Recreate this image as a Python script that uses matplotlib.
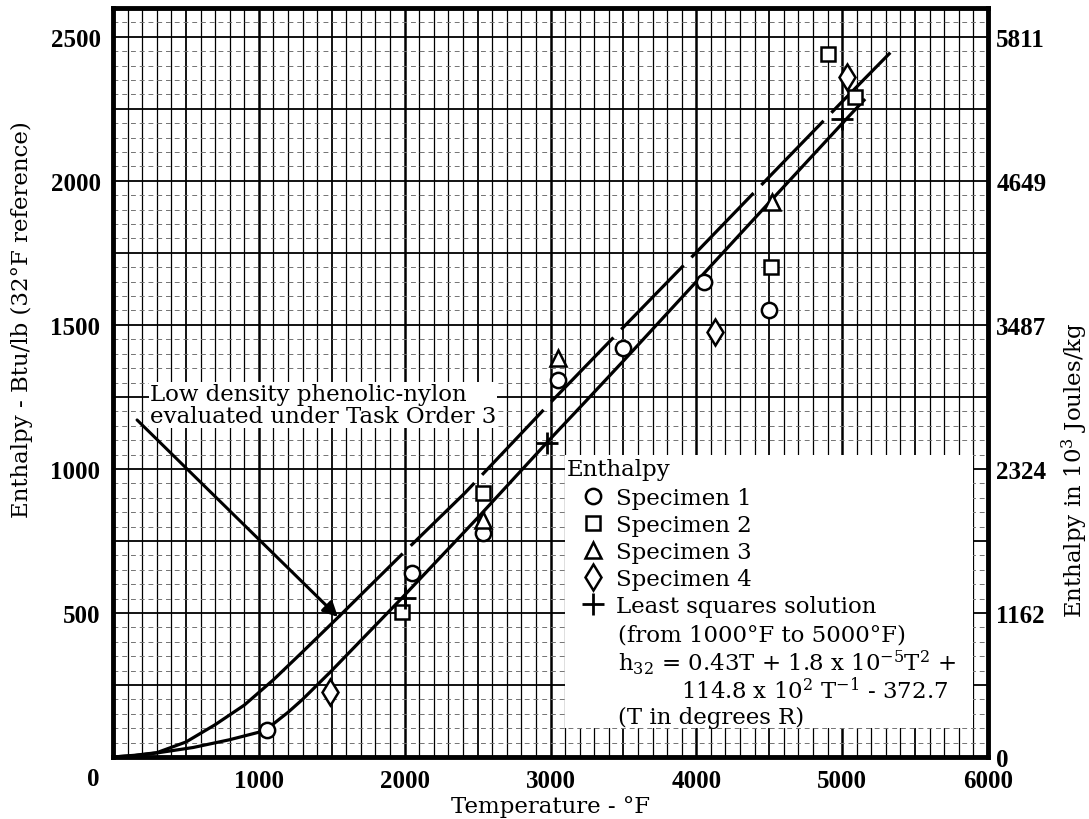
import matplotlib.pyplot as plt
import numpy as np
from matplotlib.lines import Line2D
from matplotlib.patches import Rectangle

#--------------------------------------------------------------------
# MEASURED ENTHALPY (Btu/lb, 32 F reference) vs TEMPERATURE (F)
#--------------------------------------------------------------------
SPEC1_T = [1056, 2051, 2540, 3050, 3500, 4050, 4500]
SPEC1_H = [95, 639, 777, 1310, 1420, 1650, 1550]

SPEC2_T = [1982, 2540, 4510, 4900, 5090]
SPEC2_H = [505, 916, 1700, 2440, 2290]

SPEC3_T = [2540, 3050, 4520]
SPEC3_H = [822, 1385, 1925]

SPEC4_T = [1490, 4130, 5030]
SPEC4_H = [225, 1475, 2360]

LSQ_T = [2000, 2975, 5000]
LSQ_H = [552, 1090, 2215]

# curve for the material of this report
CURVE_T = [0, 150, 300, 550, 800, 1000, 1100, 1200, 1300, 1400, 1500, 1968,
           2500, 3000, 3251, 3500, 4000, 4500, 5055, 5150]
CURVE_H = [0, 5, 14, 33, 60, 86, 115, 155, 200, 250, 300, 545,
           830, 1105, 1240, 1375, 1650, 1925, 2229, 2280]

# low density phenolic-nylon (Task Order 3), solid then dashed
TO3_T = [0, 150, 300, 500, 700, 900, 1100, 1300, 1550]
TO3_H = [0, 6, 15, 52, 112, 180, 268, 365, 488]
TO3_DASH_T = [1550, 2000, 2414, 3018, 3500, 4000, 4500, 5000, 5330]
TO3_DASH_H = [488, 713, 917, 1240, 1492, 1752, 2014, 2275, 2445]

X_TICKS = [1000, 2000, 3000, 4000, 5000, 6000]
Y_TICKS = [500, 1000, 1500, 2000, 2500]
SI_TICKS = [0, 500, 1000, 1500, 2000, 2500]
SI_LABELS = ["0", "1162", "2324", "3487", "4649", "5811"]

TICK_FONT = dict(family="Liberation Serif", weight="bold", size=18)
TEXT_FONT = dict(family="DejaVu Serif", size=16.5)

plt.rcParams["mathtext.fontset"] = "dejavuserif"

fig = plt.figure(figsize=(10.89, 8.2), dpi=100)
ax = fig.add_axes([113/1089, 1 - 758/820, 875/1089, 749/820])
ax.set_xlim(0, 6000)
ax.set_ylim(0, 2600)

# graph paper
for x in np.arange(100, 6000, 100):
    if x % 1000 == 0:
        lw = 1.8
    elif x % 500 == 0:
        lw = 1.3
    else:
        lw = 0.9
    ax.axvline(x, color="black", lw=lw, zorder=0.5)
for y in np.arange(50, 2600, 50):
    if y % 250 == 0:
        ax.axhline(y, color="black", lw=1.3, zorder=0.5)
    else:
        ax.axhline(y, color="0.45", lw=0.7, ls=(0, (5, 4)), zorder=0.5)

ax.add_patch(Rectangle((3100, 100), 2800, 950, fc="white", ec="none", zorder=1))

# curves
ax.plot(CURVE_T, CURVE_H, color="black", lw=2.3, zorder=3)
ax.plot(TO3_T, TO3_H, color="black", lw=2.3, zorder=3)
ax.plot(TO3_DASH_T, TO3_DASH_H, color="black", lw=2.3, ls=(0, (28, 3.5)), zorder=3)

mk = dict(ls="none", mfc="white", mec="black", mew=1.8, zorder=4)
ax.plot(SPEC1_T, SPEC1_H, marker="o", ms=11, **mk)
ax.plot(SPEC2_T, SPEC2_H, marker="s", ms=10.5, **mk)
ax.plot(SPEC3_T, SPEC3_H, marker="^", ms=12, **mk)
ax.plot(SPEC4_T, SPEC4_H, marker="d", ms=13, **mk)
ax.plot(LSQ_T, LSQ_H, marker="+", ms=16, ls="none", color="black", mew=2, zorder=4)

# annotation
ax.text(254, 1222, "Low density phenolic-nylon\nevaluated under Task Order 3",
        ha="left", va="center", linespacing=1.05, zorder=5,
        bbox=dict(fc="white", ec="none", pad=0.5), **TEXT_FONT)
ax.annotate("", xy=(1543, 486), xytext=(165, 1170),
            arrowprops=dict(arrowstyle="-|>", lw=2.2, color="black",
                            mutation_scale=22, shrinkA=0, shrinkB=0),
            zorder=5)

# legend
handles = [
    Line2D([], [], marker="o", ms=11, **mk),
    Line2D([], [], marker="s", ms=10.5, **mk),
    Line2D([], [], marker="^", ms=12, **mk),
    Line2D([], [], marker="d", ms=13, **mk),
    Line2D([], [], marker="+", ms=16, ls="none", color="black", mew=2),
]
labels = ["Specimen 1", "Specimen 2", "Specimen 3", "Specimen 4",
          "Least squares solution"]
leg = ax.legend(handles, labels, loc="upper left", bbox_to_anchor=(0.536, 0.3605),
                frameon=False, handlelength=1.0, handletextpad=0.5,
                labelspacing=0.22, borderpad=0, borderaxespad=0,
                prop=dict(family="DejaVu Serif", size=16.5))
leg.set_zorder(5)

ax.text(0.518, 0.385, "Enthalpy", transform=ax.transAxes, ha="left", va="center",
        zorder=5, **TEXT_FONT)
ax.text(0.577, 0.163, "(from 1000°F to 5000°F)", transform=ax.transAxes,
        ha="left", va="center", zorder=5, **TEXT_FONT)
ax.text(0.577, 0.127, r"h$_{32}$ = 0.43T + 1.8 x 10$^{-5}$T$^{2}$ +",
        transform=ax.transAxes, ha="left", va="center", zorder=5, **TEXT_FONT)
ax.text(0.649, 0.090, r"114.8 x 10$^{2}$ T$^{-1}$ - 372.7",
        transform=ax.transAxes, ha="left", va="center", zorder=5, **TEXT_FONT)
ax.text(0.577, 0.054, "(T in degrees R)", transform=ax.transAxes,
        ha="left", va="center", zorder=5, **TEXT_FONT)

# axes
for sp in ax.spines.values():
    sp.set_linewidth(3.5)
    sp.set_zorder(6)
ax.set_xticks(X_TICKS)
ax.set_xticklabels([str(t) for t in X_TICKS], **TICK_FONT)
ax.set_yticks(Y_TICKS)
ax.set_yticklabels([str(t) for t in Y_TICKS], **TICK_FONT)
ax.tick_params(length=0, pad=9)
ax.annotate("0", xy=(0, 0), xytext=(-20, -22), textcoords="offset pixels",
            ha="center", va="center", annotation_clip=False, **TICK_FONT)

ax2 = ax.twinx()
ax2.set_ylim(0, 2600)
ax2.set_yticks(SI_TICKS)
ax2.set_yticklabels(SI_LABELS, **TICK_FONT)
ax2.tick_params(length=0, pad=6)
for sp in ax2.spines.values():
    sp.set_visible(False)

ax.set_xlabel("Temperature - °F", labelpad=2, **TEXT_FONT)
fig.text(22/1089, 1 - 320/820, "Enthalpy - Btu/lb (32°F reference)", rotation=90,
         ha="center", va="center", **TEXT_FONT)
fig.text(1075/1089, 1 - 470/820, r"Enthalpy in 10$^{3}$ Joules/kg", rotation=90,
         ha="center", va="center", **TEXT_FONT)

plt.savefig("out.png", dpi=100)
plt.close()
